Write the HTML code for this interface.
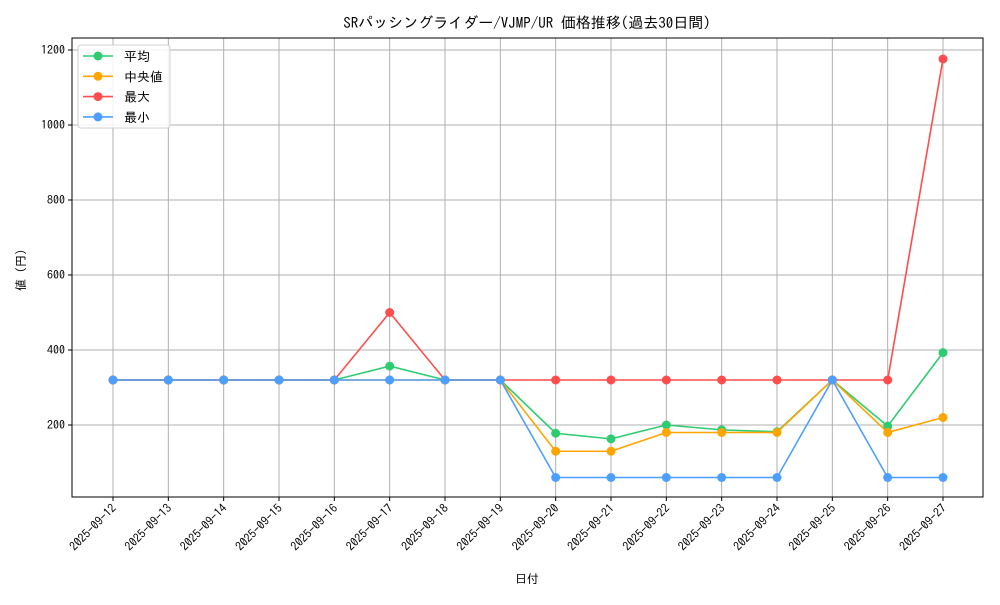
<!DOCTYPE html>
<html><head><meta charset="utf-8"><style>
body{margin:0;background:#fff}
svg text{font-family:"IPAGothic","Noto Sans CJK JP",sans-serif;fill:#000}
</style></head><body>
<svg id="c" width="1000" height="600" xmlns="http://www.w3.org/2000/svg">
<rect width="1000" height="600" fill="#fff"/>
<text x="527" y="28" font-size="15" text-anchor="middle">SRパッシングライダー/VJMP/UR 価格推移(過去30日間)</text>
<g id="grid"></g><g id="axes"></g><g id="series"></g>
<text x="527" y="583" font-size="12" text-anchor="middle">日付</text>
<text x="25" y="270" font-size="12" text-anchor="middle" transform="rotate(-90 25 270)">値 (円)</text>
<g id="legend"></g>
</svg>
<script>
const categories=["2025-09-12","2025-09-13","2025-09-14","2025-09-15","2025-09-16","2025-09-17","2025-09-18","2025-09-19","2025-09-20","2025-09-21","2025-09-22","2025-09-23","2025-09-24","2025-09-25","2025-09-26","2025-09-27"];
const avgValues=[320,320,320,320,320,357,320,320,178,163,200,187,182,320,197,393];
const medianValues=[320,320,320,320,320,320,320,320,130,130,180,180,180,320,180,220];
const maxValues=[320,320,320,320,320,500,320,320,320,320,320,320,320,320,320,1176];
const minValues=[320,320,320,320,320,320,320,320,60,60,60,60,60,320,60,60];
const yTicks=[200,400,600,800,1000,1200];
const seriesNames=["平均","中央値","最大","最小"];
const seriesColors=["#2ecc71","#ffa500","#ff4d4d","#4d9fff"];
const NS="http://www.w3.org/2000/svg";
const L=72,R=983,T=38,B=497;
const xs=i=>113+i*(943-113)/(categories.length-1);
const ys=v=>500-v*0.375;
function mk(t,a,p){const e=document.createElementNS(NS,t);for(const k in a)e.setAttribute(k,a[k]);p.appendChild(e);return e;}
const grid=document.getElementById('grid'),axes=document.getElementById('axes'),ser=document.getElementById('series'),leg=document.getElementById('legend');
categories.forEach((c,i)=>{
 const x=xs(i);
 const g=mk('line',{x1:x,x2:x,y1:T,y2:B,stroke:'#b0b0b0','stroke-width':1},grid);
 
 
 const tk=mk('line',{x1:x,x2:x,y1:B,y2:B+4,stroke:'#000'},axes);
 
 
 const t=mk('text',{x:x+4,y:B+12,'font-size':12,'text-anchor':'end',transform:`rotate(-45 ${x+4} ${B+12})`},axes);
 t.textContent=c;
 
 
});
yTicks.forEach(v=>{
 const y=ys(v);
 const g=mk('line',{x1:L,x2:R,y1:y,y2:y,stroke:'#b0b0b0','stroke-width':1},grid);
 
 
 const tk=mk('line',{x1:L-4,x2:L,y1:y,y2:y,stroke:'#000'},axes);
 
 
 const t=mk('text',{x:L-7,y:y+4,'font-size':12,'text-anchor':'end'},axes);
 t.textContent=v;
 
 
});
const frame=mk('rect',{x:L,y:T,width:R-L,height:B-T,fill:'none',stroke:'#000','stroke-width':1},axes);


[avgValues,medianValues,maxValues,minValues].forEach((vals,s)=>{
 const g=mk('g',{},ser);
 
 
 const pl=mk('polyline',{points:vals.map((v,i)=>xs(i)+','+ys(v)).join(' '),fill:'none',stroke:seriesColors[s],'stroke-width':1.6},g);
 
 
 vals.forEach((v,i)=>{
  const c=mk('circle',{cx:xs(i),cy:ys(v),r:4.5,fill:seriesColors[s]},g);
  
  
 });
});
const box=mk('rect',{x:78,y:45,width:92,height:83,rx:3,fill:'#fff','fill-opacity':0.85,stroke:'#d0d0d0'},leg);


seriesNames.forEach((n,s)=>{
 const y=56+s*20.3;
 const g=mk('g',{},leg);
 
 
 mk('line',{x1:83,x2:113,y1:y,y2:y,stroke:seriesColors[s],'stroke-width':1.6},g);
 mk('circle',{cx:98,cy:y,r:4.5,fill:seriesColors[s]},g);
 const t=mk('text',{x:124,y:y+5,'font-size':13},g);
 t.textContent=n;
});
</script>
</body></html>
